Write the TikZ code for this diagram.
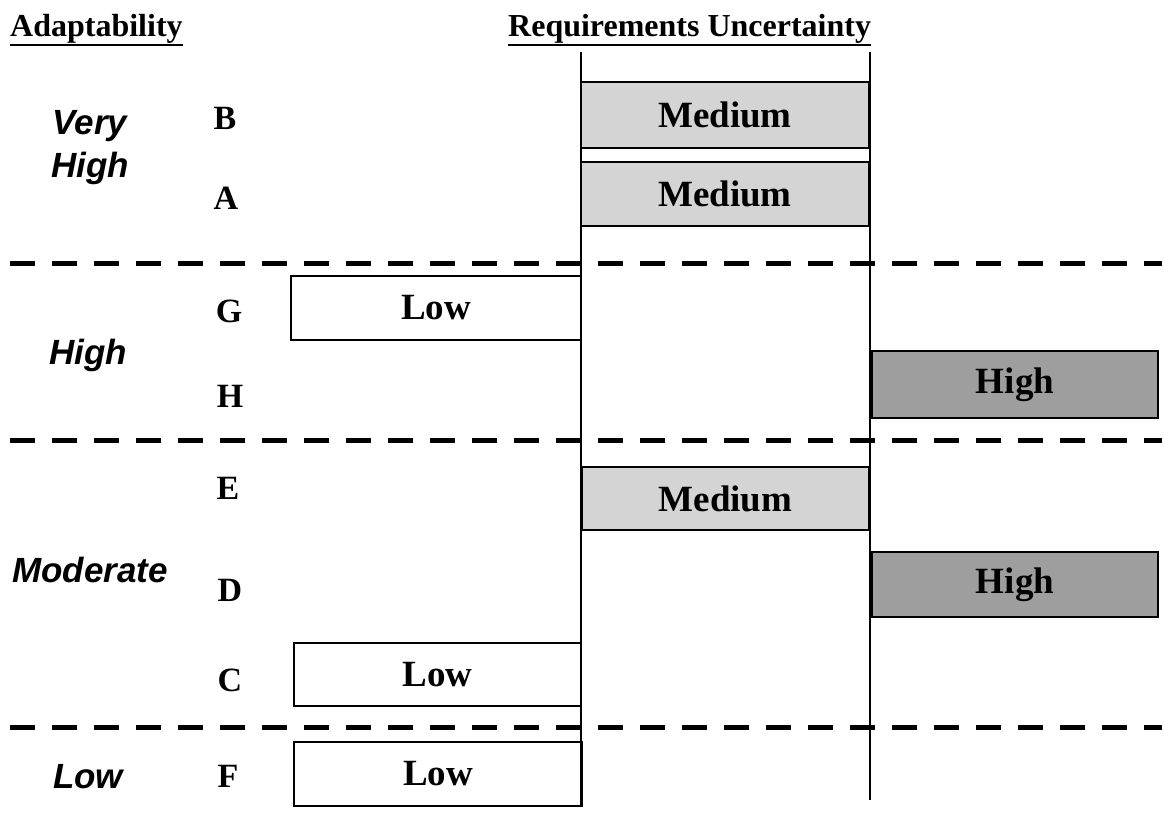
\documentclass[tikz,border=0pt]{standalone}
\usepackage{fontspec}
\setmainfont{Liberation Serif}
\newfontfamily\lsans{Liberation Sans}
\begin{document}
\begin{tikzpicture}[x=1pt,y=-1pt,
  bx/.style={draw=black,line width=2.8pt,minimum width=#1,minimum height=64pt,inner sep=0pt,
    font=\fontsize{37}{40}\selectfont\bfseries},
  med/.style={fill=black!17},
  hig/.style={fill=black!38},
  lev/.style={font=\lsans\fontsize{35}{40}\selectfont\bfseries\itshape,align=center,inner sep=0pt,anchor=base},
  let/.style={font=\fontsize{34}{36}\selectfont\bfseries,inner sep=0pt},
  hd/.style={font=\fontsize{32}{36}\selectfont\bfseries,inner sep=0pt,anchor=base west},
  ul/.style={line width=2.6pt},
  vl/.style={line width=1.8pt},
  dl/.style={line width=5pt,dash pattern=on 25pt off 17pt}]
\useasboundingbox (0,0) rectangle (1164,816);
% headers
\node[hd] (hA) at (10,37) {Adaptability};
\node[hd] (hR) at (508,37) {Requirements Uncertainty};
\draw[ul] ([yshift=-8pt]hA.base west) -- ([yshift=-8pt]hA.base east);
\draw[ul] ([yshift=-8pt]hR.base west) -- ([yshift=-8pt]hR.base east);
% vertical lines
\coordinate (l1t) at (581,52); \coordinate (l1b) at (581,805);
\coordinate (l2t) at (870,52); \coordinate (l2b) at (870,800);
\draw[vl] (l1t) -- (l1b);
\draw[vl] (l2t) -- (l2b);
% dashed separators
\coordinate (d1a) at (10,263); \coordinate (d1b) at (1162,263);
\coordinate (d2a) at (10,440); \coordinate (d2b) at (1162,440);
\coordinate (d3a) at (10,727); \coordinate (d3b) at (1162,727);
\draw[dl] (d1a) -- (d1b);
\draw[dl] (d2a) -- (d2b);
\draw[dl] (d3a) -- (d3b);
% boxes
\node[bx=288pt,med,minimum height=66pt] (mB) at (725,115) {Medium};
\node[bx=288pt,med] (mA) at (725,194) {Medium};
\node[bx=290pt] (lG) at (436,308) {Low};
\node[bx=286pt,hig,minimum height=67pt] (hH) at (1015,384.5) {High};
\node[bx=287pt,med,minimum height=63pt] (mE) at (725.5,498.5) {Medium};
\node[bx=286pt,hig,minimum height=65pt] (hD) at (1015,584.5) {High};
\node[bx=287pt,minimum height=63pt] (lC) at (437.5,674.5) {Low};
\node[bx=288pt] (lF) at (438,774) {Low};
% letters
\node[let] (B) at (225,118) {B};
\node[let] (A) at (226,198) {A};
\node[let] (G) at (229,311) {G};
\node[let] (H) at (230,396) {H};
\node[let] (E) at (228,488) {E};
\node[let] (D) at (230,590) {D};
\node[let] (C) at (230,680) {C};
\node[let] (F) at (228,776) {F};
% levels
\node[lev] (vh) at (90,177) {Very\\[3pt]High};
\node[lev] (hi) at (88,364) {High};
\node[lev] (mo) at (90,582) {Moderate};
\node[lev] (lo) at (88,788) {Low};
\end{tikzpicture}
\end{document}
